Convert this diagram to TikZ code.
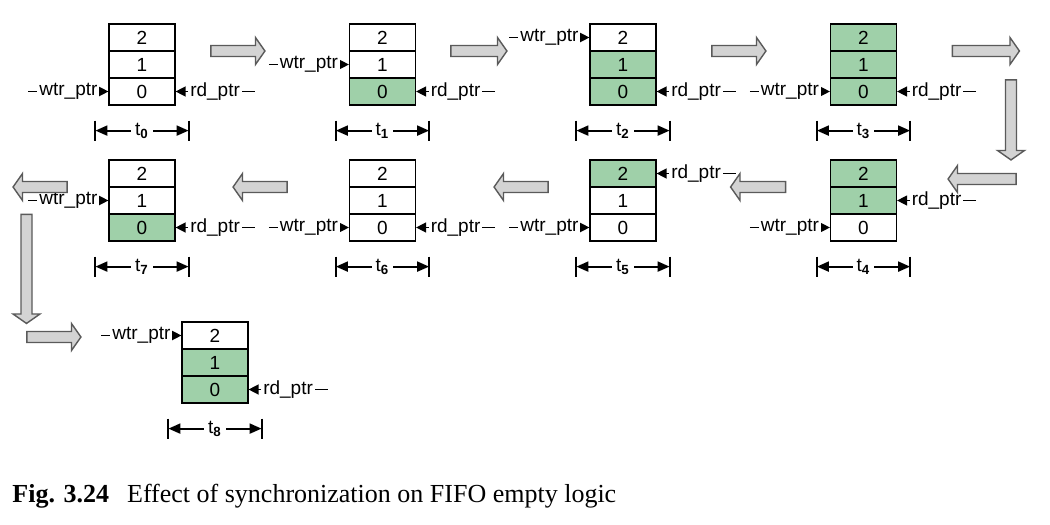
\documentclass[tikz,border=0pt]{standalone}
\usepackage{fontspec}
\setmainfont{Liberation Sans}
\newfontfamily\capfont{Liberation Serif}
\usetikzlibrary{calc,arrows.meta,shapes.arrows}
\definecolor{fifogreen}{RGB}{159,208,169}
\definecolor{arrowgray}{RGB}{211,211,211}
\definecolor{arrowedge}{RGB}{90,90,90}
\tikzset{
  cell/.style={draw, line width=0.6pt, minimum width=33pt, minimum height=13.5pt, inner sep=0pt, font=\fontsize{9.5}{10}\selectfont},
  ptr/.style={line width=0.7pt, -{Triangle[length=5pt,width=5pt]}},
  ptrlbl/.style={midway, fill=white, inner sep=1pt, font=\fontsize{9.5}{10}\selectfont},
  dimline/.style={line width=1pt, {Triangle[length=6pt,width=5pt]}-{Triangle[length=6pt,width=5pt]}},
  dimbar/.style={line width=1pt},
  bigarrow/.style={single arrow, draw=arrowedge, fill=arrowgray, line width=0.7pt, inner sep=2.4pt,
    single arrow head extend=4pt, single arrow tip angle=110, minimum height=#1},
}
\begin{document}
\begin{tikzpicture}[x=0.5pt,y=-0.5pt]
    \useasboundingbox (0,0) rectangle (1050,525);
    % FIFO stages: index / left / top / fill of cells 2,1,0 / wtr row / rd row
    \foreach \i/\fx/\fy/\ctwo/\cone/\czero/\w/\r in {
        0/109/24/white/white/white/0/0,
        1/349.5/24/white/white/fifogreen/1/0,
        2/590/24/white/fifogreen/fifogreen/2/0,
        3/830.5/24/fifogreen/fifogreen/fifogreen/0/0,
        4/830.5/160/fifogreen/fifogreen/white/0/1,
        5/590/160/fifogreen/white/white/0/2,
        6/349.5/160/white/white/white/0/0,
        7/109/160/white/white/fifogreen/1/0,
        8/182/322/white/fifogreen/fifogreen/2/0} {
        \node[cell, fill=\ctwo] (f\i-2) at (\fx+33,\fy+13.5) {2};
        \node[cell, fill=\cone] (f\i-1) at (\fx+33,\fy+40.5) {1};
        \node[cell, fill=\czero] (f\i-0) at (\fx+33,\fy+67.5) {0};
        % pointers
        \draw[ptr] ($(f\i-\w.west)+(-80,0)$) -- (f\i-\w.west) node[ptrlbl] (wp\i) {wtr\_ptr};
        \draw[ptr] ($(f\i-\r.east)+(79,0)$) -- (f\i-\r.east) node[ptrlbl] (rp\i) {rd\_ptr};
        % time span
        \coordinate (f\i-l) at ($(f\i-0.south west)+(-13,25)$);
        \coordinate (f\i-r) at ($(f\i-0.south east)+(13,25)$);
        \draw[dimbar] ($(f\i-l)+(0,-10)$) -- ($(f\i-l)+(0,10)$);
        \draw[dimbar] ($(f\i-r)+(0,-10)$) -- ($(f\i-r)+(0,10)$);
        \draw[dimline] (f\i-l) -- (f\i-r) node[midway, fill=white, inner sep=2pt, font=\fontsize{9.5}{10}\selectfont] (t\i) {t\textsubscript{\textbf{\i}}};
    }

    % Block arrows between stages
    \node[bigarrow=27pt] (a01) at (236,51) {};
    \node[bigarrow=28pt] (a12) at (477,51) {};
    \node[bigarrow=27pt] (a23) at (737,51) {};
    \node[bigarrow=33.5pt] (a34) at (984,51) {};
    \node[bigarrow=40pt, shape border rotate=270] (d34) at (1011,118) {};
    \node[bigarrow=34pt, shape border rotate=180] (a44) at (984,179) {};
    \node[bigarrow=27.5pt, shape border rotate=180] (a45) at (760,187) {};
    \node[bigarrow=27pt, shape border rotate=180] (a56) at (523,187) {};
    \node[bigarrow=27pt, shape border rotate=180] (a67) at (262,187) {};
    \node[bigarrow=27pt, shape border rotate=180] (a77) at (42,187) {};
    \node[bigarrow=54.5pt, shape border rotate=270] (d78) at (26.5,267) {};
    \node[bigarrow=27pt] (a78) at (52,337) {};

    % Caption
    \node[anchor=base west, inner sep=0pt, font=\capfont\fontsize{13}{15}\selectfont] (cap) at (12,502)
        {\textbf{Fig. 3.24}\hspace{9pt}Effect of synchronization on FIFO empty logic};
\end{tikzpicture}
\end{document}
